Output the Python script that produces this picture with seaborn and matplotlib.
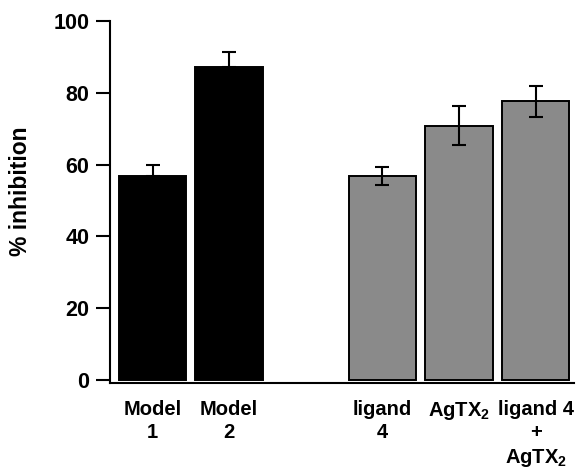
import matplotlib
matplotlib.use("Agg")
import matplotlib.pyplot as plt
import seaborn as sns
import pandas as pd

# Data
labels = ["Model\n1", "Model\n2", "ligand\n4", "AgTX$_2$", "ligand 4\n+\nAgTX$_2$"]
positions = [0, 1, 3, 4, 5]
values = [56.9, 87.3, 56.8, 70.8, 77.6]
errors = [2.9, 4.1, 2.6, 5.4, 4.3]
groups = ["model", "model", "treatment", "treatment", "treatment"]
group_colors = {"model": "#000000", "treatment": "#8a8a8a"}
yticks = [0, 20, 40, 60, 80, 100]

sns.set_theme(style="ticks")
plt.rcParams["font.family"] = ["Liberation Sans", "DejaVu Sans"]
plt.rcParams["font.weight"] = "bold"
plt.rcParams["text.color"] = "black"
plt.rcParams["axes.labelcolor"] = "black"
plt.rcParams["xtick.color"] = "black"
plt.rcParams["ytick.color"] = "black"
plt.rcParams["mathtext.fontset"] = "custom"
plt.rcParams["mathtext.rm"] = "Liberation Sans:bold"
plt.rcParams["mathtext.bf"] = "Liberation Sans:bold"
plt.rcParams["mathtext.it"] = "Liberation Sans:bold"

df = pd.DataFrame({"pos": positions, "value": values, "group": groups})

fig = plt.figure(figsize=(5.87, 4.71), dpi=100)
ax = fig.add_axes([0.1874, 0.1868, 0.7905, 0.7686])

sns.barplot(data=df, x="pos", y="value", hue="group", palette=group_colors,
            native_scale=True, dodge=False, width=0.88, legend=False,
            edgecolor="black", linewidth=1.4, errorbar=None, ax=ax)

# Error bars: upper only for model bars, symmetric for treatment bars
for p, v, e, g in zip(positions, values, errors, groups):
    if g == "model":
        ax.errorbar(p, v, yerr=[[0], [e]], fmt="none", ecolor="black",
                    elinewidth=1.5, capsize=5, capthick=1.5, zorder=3)
    else:
        ax.errorbar(p, v, yerr=e, fmt="none", ecolor="black",
                    elinewidth=1.5, capsize=5, capthick=1.5, zorder=3)

ax.set_xlim(-0.555, 5.5)
ax.set_ylim(-0.85, 100)
ax.set_yticks(yticks)
ax.set_yticklabels([str(t) for t in yticks], fontsize=15.5, fontweight="bold")
ax.set_xticks(positions)
ax.set_xticklabels(labels, fontsize=14.5, fontweight="bold", linespacing=1.3,
                   va="top", ha="center")
ax.tick_params(axis="x", length=0, pad=12)
ax.tick_params(axis="y", length=10, width=1.5, pad=5, color="black")
ax.set_xlabel("")
ax.set_ylabel("% inhibition", fontsize=16.5, fontweight="bold")
ax.yaxis.set_label_coords(-0.168, 0.53)

for side in ["top", "right"]:
    ax.spines[side].set_visible(False)
for side in ["left", "bottom"]:
    ax.spines[side].set_linewidth(1.5)
    ax.spines[side].set_color("black")

fig.savefig("out.png", dpi=100)
